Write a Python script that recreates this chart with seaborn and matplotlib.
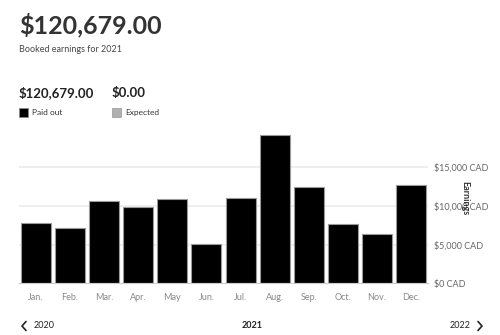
import matplotlib
matplotlib.use("Agg")
import matplotlib.pyplot as plt
from matplotlib.lines import Line2D
from matplotlib.patches import Rectangle
import seaborn as sns
import pandas as pd

months = ["Jan.", "Feb.", "Mar.", "Apr.", "May", "Jun.", "Jul.", "Aug.", "Sep.", "Oct.", "Nov.", "Dec."]
paid_out = [7800, 7080, 10550, 9780, 10810, 5020, 11010, 19050, 12430, 7600, 6310, 12700]
y_ticks = [0, 5000, 10000, 15000]
y_tick_labels = ["$0 CAD", "$5,000 CAD", "$10,000 CAD", "$15,000 CAD"]
total_text = "$120,679.00"
expected_text = "$0.00"
year_prev, year_cur, year_next = "2020", "2021", "2022"

df = pd.DataFrame({"month": months, "earnings": paid_out})

sns.set_style("white")
plt.rcParams["font.family"] = ["Lato", "DejaVu Sans"]

fig = plt.figure(figsize=(5.0, 3.35), dpi=100)
ax = fig.add_axes([0.038, 0.154, 0.818, 0.464])

for t in y_ticks[1:]:
    ax.axhline(t, color="#ebebeb", lw=1.2, zorder=0)

sns.barplot(data=df, x="month", y="earnings", color="black", width=0.88,
            edgecolor="#9a9a9a", linewidth=0.8, saturation=1, ax=ax, zorder=2)

ax.set_ylim(0, 20000)
ax.set_xlim(-0.5, 11.5)
for s in ["top", "left", "right"]:
    ax.spines[s].set_visible(False)
ax.spines["bottom"].set_color("#cccccc")
ax.spines["bottom"].set_linewidth(0.8)

ax.yaxis.tick_right()
ax.set_yticks(y_ticks)
ax.set_yticklabels(y_tick_labels)
ax.tick_params(axis="y", length=0, pad=4, labelsize=6.5, labelcolor="#666666")
ax.tick_params(axis="x", length=3, color="#dddddd", pad=4, labelsize=6.5, labelcolor="#888888")
ax.set_xlabel("")
ax.yaxis.set_label_position("right")
ax.set_ylabel("Earnings", rotation=270, fontsize=6.5, fontweight="bold", color="#333333")
ax.yaxis.set_label_coords(1.1, 0.55)

# header texts
fig.text(0.038, 1 - 25 / 335, total_text, fontsize=18, fontweight="bold", color="#333333", va="center")
fig.text(0.038, 1 - 50 / 335, "Booked earnings for 2021", fontsize=6.5, color="#484848", va="center")
fig.text(0.038, 1 - 93 / 335, total_text, fontsize=9.5, fontweight="bold", color="#222222", va="center")
fig.text(0.224, 1 - 93 / 335, expected_text, fontsize=9.5, fontweight="bold", color="#222222", va="center")

fig.patches.append(Rectangle((19 / 500, 1 - 117 / 335), 9 / 500, 9 / 335, transform=fig.transFigure,
                             facecolor="black", edgecolor="#888888", lw=0.5))
fig.text(32 / 500, 1 - 112.5 / 335, "Paid out", fontsize=6, color="#333333", va="center")
fig.patches.append(Rectangle((112 / 500, 1 - 117 / 335), 9 / 500, 9 / 335, transform=fig.transFigure,
                             facecolor="#b0b0b0", edgecolor="#999999", lw=0.5))
fig.text(125 / 500, 1 - 112.5 / 335, "Expected", fontsize=6, color="#333333", va="center")

# bottom navigation
ny = 1 - 326 / 335
fig.text(34 / 500, ny, year_prev, fontsize=6.5, color="#222222", va="center")
fig.text(252 / 500, ny, year_cur, fontsize=6.5, fontweight="bold", color="#222222", va="center", ha="center")
fig.text(471 / 500, ny, year_next, fontsize=6.5, color="#222222", va="center", ha="right")
fig.lines.append(Line2D([26 / 500, 22 / 500, 26 / 500], [ny + 4.5 / 335, ny, ny - 4.5 / 335],
                        transform=fig.transFigure, color="#222222", lw=1.2))
fig.lines.append(Line2D([478 / 500, 482 / 500, 478 / 500], [ny + 4.5 / 335, ny, ny - 4.5 / 335],
                        transform=fig.transFigure, color="#222222", lw=1.2))

fig.savefig("out.png", dpi=100)
